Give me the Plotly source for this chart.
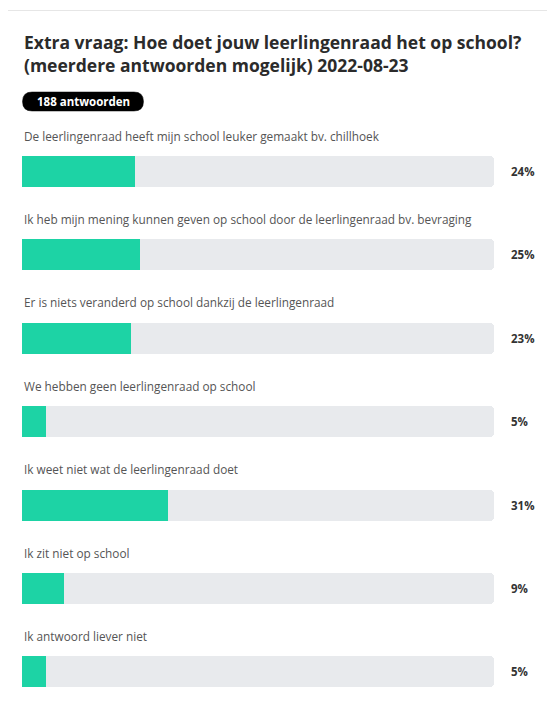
import plotly.graph_objects as go

# page body has an 8px default margin; figure is sized to fit and coordinates offset
OFF = 8
W, H = 555 - OFF, 713 - OFF

title_lines = ["Extra vraag: Hoe doet jouw leerlingenraad het op school?",
               "(meerdere antwoorden mogelijk) 2022-08-23"]
badge_text = "188 antwoorden"
categories = [
    "De leerlingenraad heeft mijn school leuker gemaakt bv. chillhoek",
    "Ik heb mijn mening kunnen geven op school door de leerlingenraad bv. bevraging",
    "Er is niets veranderd op school dankzij de leerlingenraad",
    "We hebben geen leerlingenraad op school",
    "Ik weet niet wat de leerlingenraad doet",
    "Ik zit niet op school",
    "Ik antwoord liever niet",
]
values = [24, 25, 23, 5, 31, 9, 5]
track_max = [100] * len(values)

GREEN = "#1dd3a5"
TRACK = "#e8eaed"
FONT = "Open Sans"

def px_x(p):
    return (p - OFF) / W

def px_y(p):
    return 1 - (p - OFF) / H

first_center, spacing = 171.5, 83.4
idx = list(range(len(categories)))
c0 = first_center - OFF
y_top = -c0 / spacing
y_bot = (H - c0) / spacing
bar_w = 31 / spacing

fig = go.Figure()
fig.add_trace(go.Bar(
    x=track_max, y=idx, orientation="h", width=bar_w,
    marker=dict(color=TRACK, cornerradius=4, line=dict(width=0)),
    hoverinfo="skip", showlegend=False))
fig.add_trace(go.Bar(
    x=values, y=idx, orientation="h", width=bar_w,
    marker=dict(color=GREEN, cornerradius=3, line=dict(width=0)),
    hoverinfo="skip", showlegend=False))

annotations = []
for i, line in enumerate(title_lines):
    annotations.append(dict(
        text=f"<b>{line}</b>", x=px_x(22), y=px_y(42 + i * 23),
        xref="paper", yref="paper", xanchor="left", yanchor="middle",
        showarrow=False, font=dict(family=FONT, size=17.5, color="#2b2b2b")))
annotations.append(dict(
    text=f"<b>{badge_text}</b>", x=px_x(83), y=px_y(101.5),
    xref="paper", yref="paper", xanchor="center", yanchor="middle",
    showarrow=False, font=dict(family=FONT, size=11.5, color="white")))
for i, (cat, v) in enumerate(zip(categories, values)):
    annotations.append(dict(
        text=cat, x=px_x(22), y=i - 36 / spacing,
        xref="paper", yref="y", xanchor="left", yanchor="middle",
        showarrow=False, font=dict(family=FONT, size=11.8, color="#555555")))
    annotations.append(dict(
        text=f"<b>{v}%</b>", x=px_x(509), y=i,
        xref="paper", yref="y", xanchor="left", yanchor="middle",
        showarrow=False, font=dict(family=FONT, size=11.5, color="#333333")))

shapes = [
    dict(type="rect", xref="paper", yref="paper",
         x0=px_x(7.5), x1=px_x(554), y0=px_y(725), y1=px_y(10.5),
         line=dict(color="#e6e6e6", width=1), fillcolor="rgba(0,0,0,0)", layer="below"),
]
bx0, bx1, by0, by1 = 22.5, 143.5, 92, 111
r = (by1 - by0) / 2
def P(x, y):
    return f"{px_x(x)},{px_y(y)}"
path = (f"M {P(bx0 + r, by0)} L {P(bx1 - r, by0)} "
        f"Q {P(bx1, by0)} {P(bx1, by0 + r)} Q {P(bx1, by1)} {P(bx1 - r, by1)} "
        f"L {P(bx0 + r, by1)} Q {P(bx0, by1)} {P(bx0, by1 - r)} "
        f"Q {P(bx0, by0)} {P(bx0 + r, by0)} Z")
shapes.append(dict(type="path", xref="paper", yref="paper", path=path,
                   fillcolor="black", line=dict(color="black", width=0.5), layer="above"))

fig.update_layout(
    width=W, height=H, margin=dict(l=0, r=0, t=0, b=0, autoexpand=False),
    paper_bgcolor="white", plot_bgcolor="white",
    barmode="overlay", bargap=0,
    xaxis=dict(domain=[px_x(22), px_x(494)], range=[0, 100], visible=False, fixedrange=True),
    yaxis=dict(domain=[0, 1], range=[y_bot, y_top], visible=False, fixedrange=True),
    annotations=annotations, shapes=shapes, showlegend=False,
)
fig.write_html("out.html")
